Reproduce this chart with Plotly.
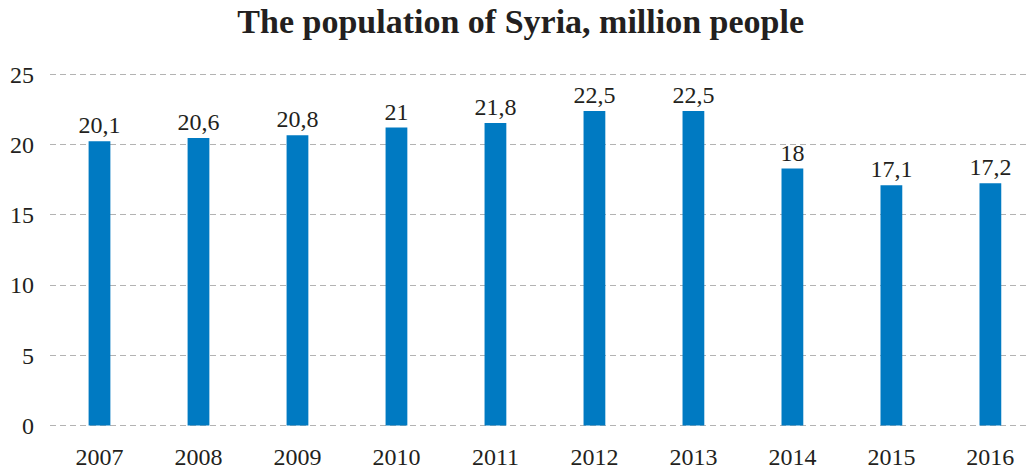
import plotly.graph_objects as go

years = ["2007", "2008", "2009", "2010", "2011", "2012", "2013", "2014", "2015", "2016"]
bar_heights = [20.25, 20.47, 20.68, 21.22, 21.55, 22.4, 22.4, 18.3, 17.12, 17.26]
labels = ["20,1", "20,6", "20,8", "21", "21,8", "22,5", "22,5", "18", "17,1", "17,2"]
y_ticks = [0, 5, 10, 15, 20, 25]

font_family = "Liberation Serif, Times New Roman, serif"
text_color = "#231f20"

fig = go.Figure(go.Bar(
    x=years,
    y=bar_heights,
    text=labels,
    textposition="outside",
    constraintext="none",
    textfont=dict(family=font_family, size=24, color=text_color),
    marker=dict(color="#007ac2", line=dict(width=0)),
    width=0.22,
    cliponaxis=False,
    hoverinfo="skip",
))

fig.update_layout(
    width=1027,
    height=470,
    margin=dict(l=50, r=0, t=72, b=39),
    paper_bgcolor="white",
    plot_bgcolor="white",
    showlegend=False,
    uniformtext=dict(minsize=24, mode="show"),
    title=dict(
        text="<b>The population of Syria, million people</b>",
        x=0.507,
        xanchor="center",
        y=0.955,
        yanchor="middle",
        font=dict(family=font_family, size=34, color=text_color),
    ),
    font=dict(family=font_family, color=text_color),
)

fig.update_xaxes(
    type="category",
    range=[-0.5, 9.37],
    showgrid=False,
    showline=False,
    ticks="",
    tickfont=dict(family=font_family, size=24, color=text_color),
    ticklabelstandoff=12,
)

fig.update_yaxes(
    range=[-0.18, 25.18],
    tickvals=y_ticks,
    showgrid=True,
    gridcolor="#b3b3b3",
    gridwidth=1,
    griddash="6px,4px",
    zeroline=False,
    showline=False,
    ticks="",
    tickfont=dict(family=font_family, size=24, color=text_color),
    ticklabelstandoff=15,
)

fig.write_html(
    "out.html",
    config={"displayModeBar": False},
    post_script="document.body.style.margin='0';",
)
